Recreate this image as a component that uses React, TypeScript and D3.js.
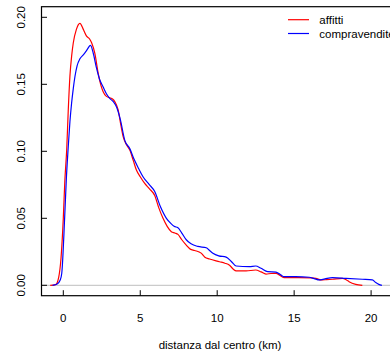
import React from "react";
import * as d3 from "d3";

const affitti: [number, number][] = [
  [-0.85, 0], [-0.5, 0.0005], [-0.3, 0.006], [-0.15, 0.02], [0, 0.05], [0.1, 0.078], [0.22, 0.101],
  [0.32, 0.13], [0.43, 0.156], [0.55, 0.172], [0.65, 0.181], [0.85, 0.191], [1.08, 0.1955],
  [1.3, 0.191], [1.51, 0.186], [1.7, 0.184], [1.84, 0.181], [2.05, 0.173], [2.27, 0.158],
  [2.45, 0.149], [2.59, 0.1445], [2.8, 0.141], [3.02, 0.14], [3.2, 0.139], [3.35, 0.137],
  [3.56, 0.131], [3.75, 0.119], [3.89, 0.111], [4.1, 0.105], [4.32, 0.101], [4.55, 0.093],
  [4.75, 0.086], [5.0, 0.081], [5.29, 0.076], [5.6, 0.072], [5.94, 0.067], [6.2, 0.058],
  [6.48, 0.05], [6.75, 0.044], [7.02, 0.04], [7.25, 0.039], [7.45, 0.038], [7.7, 0.034],
  [7.99, 0.03], [8.25, 0.027], [8.53, 0.026], [8.96, 0.024], [9.2, 0.021], [9.5, 0.0196],
  [10.15, 0.0176], [10.5, 0.0165], [10.8, 0.015], [11.05, 0.012], [11.23, 0.0107], [11.88, 0.0107],
  [12.5, 0.0114], [12.85, 0.01], [13.17, 0.0084], [13.5, 0.0088], [13.82, 0.0089], [14.1, 0.0072],
  [14.36, 0.0057], [15.3, 0.0057], [16.1, 0.0055], [16.41, 0.0052], [16.74, 0.004], [17.1, 0.0042],
  [17.49, 0.0045], [18.13, 0.0052], [18.4, 0.004], [18.57, 0.0027], [19.0, 0.0007], [19.43, 0],
];

const compravendite: [number, number][] = [
  [-0.7, 0], [-0.4, 0.001], [-0.2, 0.004], [-0.1, 0.009], [0.09, 0.051], [0.2, 0.08], [0.32, 0.103],
  [0.43, 0.122], [0.54, 0.136], [0.65, 0.147], [0.76, 0.156], [0.9, 0.164], [1.08, 0.169],
  [1.3, 0.172], [1.5, 0.175], [1.77, 0.179], [1.95, 0.173], [2.16, 0.162], [2.35, 0.154],
  [2.59, 0.148], [2.8, 0.143], [3.02, 0.1395], [3.25, 0.137], [3.46, 0.133], [3.7, 0.124],
  [4.0, 0.108], [4.32, 0.102], [4.6, 0.094], [4.9, 0.087], [5.18, 0.081], [5.6, 0.075],
  [5.94, 0.07], [6.3, 0.059], [6.7, 0.05], [7.0, 0.046], [7.2, 0.044], [7.45, 0.043],
  [7.7, 0.039], [7.99, 0.034], [8.3, 0.031], [8.74, 0.029], [9.29, 0.028], [9.5, 0.026],
  [9.72, 0.024], [10.1, 0.022], [10.58, 0.021], [10.9, 0.018], [11.23, 0.0144], [12.09, 0.0139],
  [12.5, 0.0144], [12.85, 0.0127], [13.28, 0.0102], [13.82, 0.0099], [14.1, 0.008], [14.36, 0.0064],
  [15.1, 0.0064], [15.98, 0.006], [16.3, 0.005], [16.63, 0.004], [17.0, 0.0048], [17.49, 0.0057],
  [18.35, 0.0052], [19.43, 0.0045], [20.08, 0.004], [20.3, 0.002], [20.5, 0.0007], [20.7, 0],
];

const xTicks = [0, 5, 10, 15, 20];
const yTicks = [0, 0.05, 0.1, 0.15, 0.2];
const yTickLabels = ["0.00", "0.05", "0.10", "0.15", "0.20"];
const seriesNames = ["affitti", "compravendite"];
const seriesColors = ["#ff0000", "#0000ff"];
const xTitle = "distanza dal centro (km)";

export default function App() {
  const W = 390, H = 356;
  const left = 41.5, top = 6.7, bottom = 295.7, right = 397;
  const x = d3.scaleLinear().domain([0, 20]).range([63.3, 371.1]);
  const y = d3.scaleLinear().domain([0, 0.2]).range([285.3, 17.3]);
  const line = d3.line<[number, number]>().x(d => x(d[0])).y(d => y(d[1])).curve(d3.curveMonotoneX);
  const series = [affitti, compravendite];
  const font = "'Liberation Sans', Arial, Helvetica, sans-serif";
  const fs = 11.5;
  return (
    <svg width={W} height={H} style={{ position: "absolute", left: 0, top: 0, background: "#fff" }}>
      <line x1={left} x2={W} y1={y(0)} y2={y(0)} stroke="#bebebe" strokeWidth={1} />
      {series.map((s, i) => (
        <path key={i} d={line(s) || ""} fill="none" stroke={seriesColors[i]} strokeWidth={1.2} />
      ))}
      <rect x={left} y={top} width={right - left} height={bottom - top} fill="none" stroke="#000" strokeWidth={1.2} />
      {xTicks.map(t => (
        <g key={t}>
          <line x1={x(t)} x2={x(t)} y1={bottom} y2={bottom - 5.5} stroke="#000" strokeWidth={1} />
          <text x={x(t)} y={321.5} textAnchor="middle" fontSize={fs} fontFamily={font} fill="#000">{t}</text>
        </g>
      ))}
      {yTicks.map((t, i) => (
        <g key={t}>
          <line x1={left} x2={left + 5.5} y1={y(t)} y2={y(t)} stroke="#000" strokeWidth={1} />
          <text transform={`translate(25,${y(t)}) rotate(-90)`} textAnchor="middle" fontSize={fs} fontFamily={font} fill="#000">{yTickLabels[i]}</text>
        </g>
      ))}
      <text x={220} y={348.5} textAnchor="middle" fontSize={fs} fontFamily={font} fill="#000">{xTitle}</text>
      {seriesNames.map((n, i) => (
        <g key={n}>
          <line x1={288} x2={309} y1={19.7 + i * 13.8} y2={19.7 + i * 13.8} stroke={seriesColors[i]} strokeWidth={1.2} />
          <text x={319.3} y={23.9 + i * 13.8} fontSize={fs} fontFamily={font} fill="#000">{n}</text>
        </g>
      ))}
    </svg>
  );
}
